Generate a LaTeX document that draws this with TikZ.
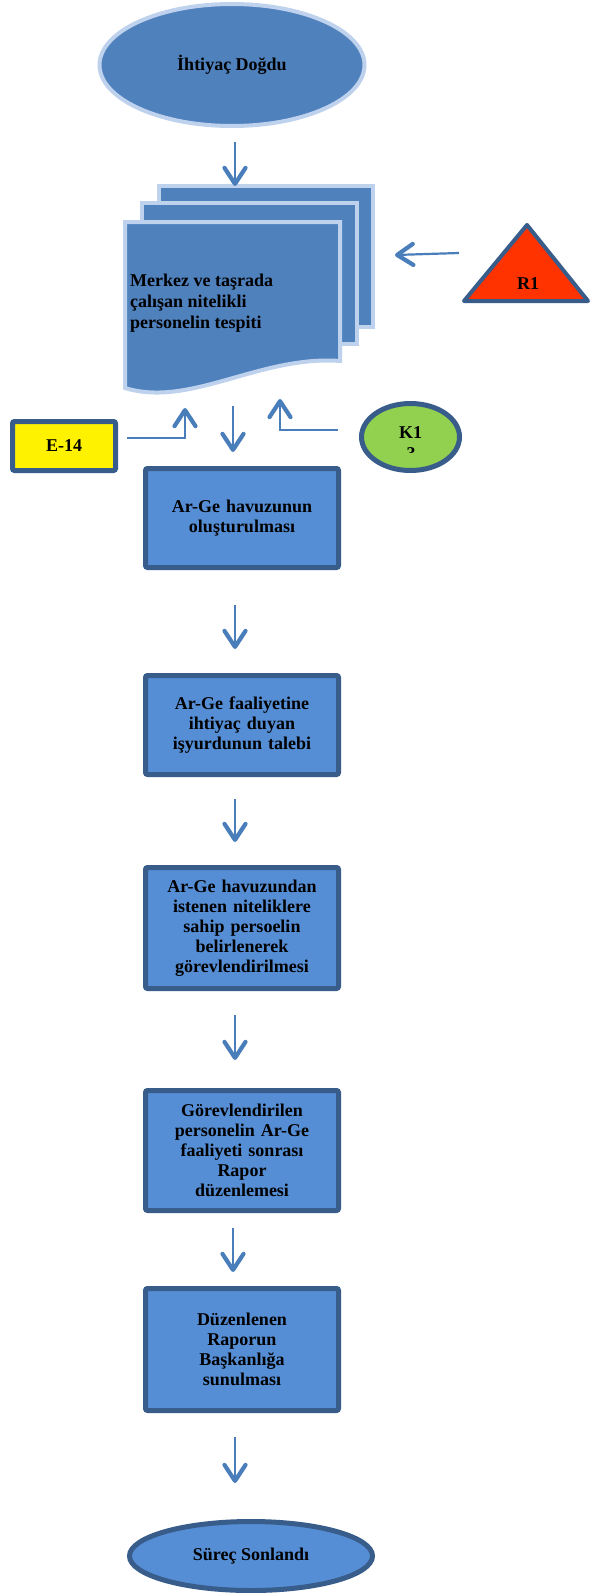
\documentclass[tikz,border=0pt]{standalone}
\usepackage{fontspec}
\setmainfont{Liberation Serif}
\usetikzlibrary{arrows.meta,shapes.geometric}

\definecolor{docfill}{RGB}{79,129,189}
\definecolor{docedge}{RGB}{190,210,238}
\definecolor{boxfill}{RGB}{85,142,213}
\definecolor{boxedge}{RGB}{56,93,138}
\definecolor{arrowblue}{RGB}{74,126,187}
\definecolor{kgreen}{RGB}{146,208,80}
\definecolor{rred}{RGB}{255,51,0}

\newcommand\flowfont{\fontsize{18}{20}\selectfont\bfseries}

\tikzset{
  procbox/.style={draw=boxedge, fill=boxfill, line width=5pt, rounded corners=2pt,
    minimum width=193pt, text width=185pt, align=center, inner sep=0pt, font=\flowfont},
  endbox/.style={ellipse, draw=boxedge, fill=boxfill, line width=5pt, inner sep=0pt, font=\flowfont},
  page/.style={fill=docfill, draw=docedge, line width=4pt},
  vhead/.style={-{Straight Barb[length=16pt,width=21pt,line width=4.2pt,round]}},
  flow/.style={arrowblue, line width=2.2pt, vhead},
  conn/.style={arrowblue, line width=1.8pt, vhead},
}

\begin{document}
\begin{tikzpicture}[x=1pt,y=-1pt]
  \fill[white] (0,0) rectangle (593,1593);
  \useasboundingbox (0,0) rectangle (593,1593);

  % start terminator
  \node[ellipse, draw=docedge, fill=docfill, line width=4pt, inner sep=0pt,
        minimum width=265pt, minimum height=122pt, font=\flowfont] (start) at (232,65) {İhtiyaç Doğdu};

  % stacked documents
  \draw[page] (159,186) rectangle (373,327);
  \draw[page] (142,203) rectangle (357,344);
  \draw[page] (125,222) -- (340,222) -- (340,361)
      .. controls (260,355) and (190,408) .. (125,388) -- cycle;
  \node[inner sep=0pt, anchor=west, align=left, font=\fontsize{18}{21}\selectfont\bfseries]
      (doc) at (130,303) {Merkez ve taşrada\\çalışan nitelikli\\personelin tespiti};
  \coordinate (doctop) at (235,186);

  % risk triangle
  \draw[fill=rred, draw=boxedge, line width=4pt, line join=round]
      (527,225) -- (588,301) -- (464,301) -- cycle;
  \node[font=\flowfont, anchor=base] (r1) at (528,289) {R1};
  \coordinate (r1out) at (459,253);
  \coordinate (docin3) at (395,255);

  % document reference
  \node[draw=boxedge, fill=yellow, line width=5pt, rounded corners=2pt, inner sep=0pt,
        minimum width=103pt, minimum height=49pt, font=\flowfont] (e14) at (64,446) {E-14};
  \coordinate (e14out) at (127,438);
  \coordinate (docin1) at (185,408);

  % control
  \node[ellipse, draw=boxedge, fill=kgreen, line width=5pt, inner sep=0pt, text depth=9pt,
        minimum width=98pt, minimum height=67pt, font=\flowfont] (k1) at (410.5,437) {K1};
  \begin{scope}
    \clip (380,440) rectangle (440,452);
    \node[font=\flowfont, anchor=base] (k1b) at (411,459) {3};
  \end{scope}
  \coordinate (k1out) at (338,430);
  \coordinate (docin2) at (280,399);

  % process steps
  \node[procbox, minimum height=99pt] (b1) at (242,518) {Ar-Ge havuzunun\\oluşturulması};
  \node[procbox, minimum height=99pt] (b2) at (242,725) {Ar-Ge faaliyetine\\ihtiyaç duyan\\işyurdunun talebi};
  \node[procbox, minimum height=121pt] (b3) at (242,928) {Ar-Ge havuzundan\\istenen niteliklere\\sahip persoelin\\belirlenerek\\görevlendirilmesi};
  \node[procbox, minimum height=120pt] (b4) at (242,1150.5) {Görevlendirilen\\personelin Ar-Ge\\faaliyeti sonrası\\Rapor\\düzenlemesi};
  \node[procbox, minimum height=122pt] (b5) at (242,1349.5) {Düzenlenen\\Raporun\\Başkanlığa\\sunulması};

  % end terminator
  \node[endbox, minimum width=243pt, minimum height=69pt] (end) at (251,1556) {Süreç Sonlandı};

  % connectors
  \draw[flow, shorten <=14pt] ([xshift=3pt]start.south) -- (doctop);
  \draw[flow] (r1out) -- (docin3);
  \draw[conn] (e14out) -| (docin1);
  \draw[conn] (k1out) -| (docin2);
  \coordinate (docout) at (233,406);
  \draw[flow, shorten >=14pt] (docout) -- (b1.north -| docout);
  \draw[flow, shorten <=35pt, shorten >=24pt] ([xshift=-7pt]b1.south) -- ([xshift=-7pt]b2.north);
  \draw[flow, shorten <=22pt, shorten >=23pt] ([xshift=-7pt]b2.south) -- ([xshift=-7pt]b3.north);
  \draw[flow, shorten <=24pt, shorten >=28pt] ([xshift=-7pt]b3.south) -- ([xshift=-7pt]b4.north);
  \draw[flow, shorten <=15pt, shorten >=14pt] ([xshift=-9pt]b4.south) -- ([xshift=-9pt]b5.north);
  \draw[flow, shorten <=24pt, shorten >=36pt] ([xshift=-7pt]b5.south) -- ([xshift=-7pt]b5.south |- end.north);
\end{tikzpicture}
\end{document}
